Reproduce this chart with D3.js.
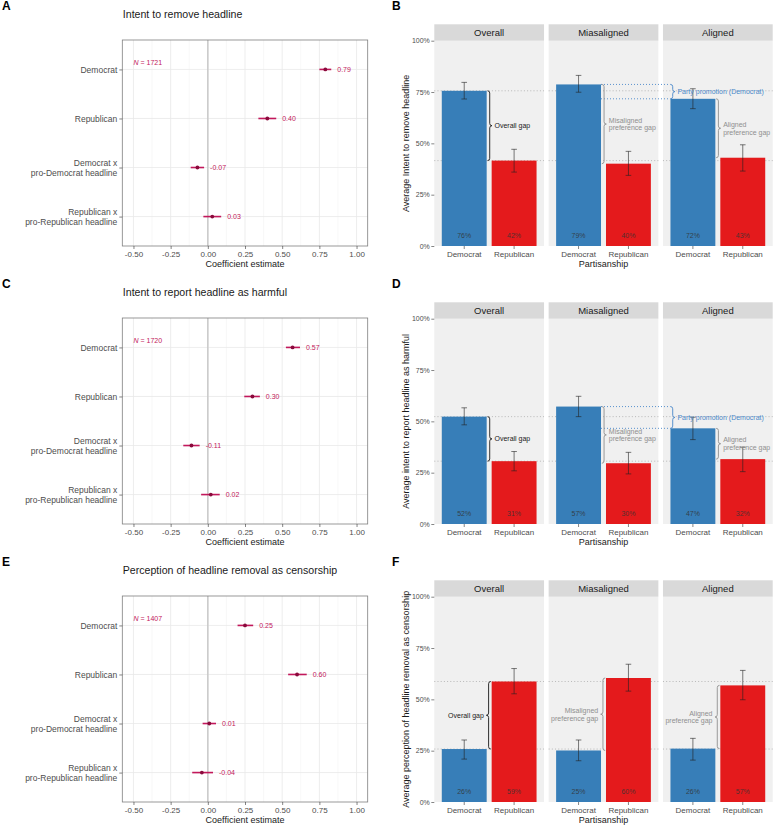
<!DOCTYPE html>
<html><head><meta charset="utf-8">
<script src="https://cdn.jsdelivr.net/npm/d3@7"></script>
<style>body{margin:0;background:#fff}svg{display:block}text{font-family:"Liberation Sans",Arial,Helvetica,sans-serif}</style>
</head><body><svg id="c" width="774" height="825"></svg>
<script>
// ---------- data ----------
const coefTerms = ["Democrat", "Republican", "Democrat x\npro-Democrat headline", "Republican x\npro-Republican headline"];
const coefTicks = [-0.5, -0.25, 0, 0.25, 0.5, 0.75, 1];

const removeEst = [0.79, 0.40, -0.07, 0.03];
const removeLo  = [0.75, 0.34, -0.115, -0.03];
const removeHi  = [0.83, 0.46, -0.025, 0.09];
const harmEst = [0.57, 0.30, -0.11, 0.02];
const harmLo  = [0.525, 0.245, -0.165, -0.045];
const harmHi  = [0.62, 0.35, -0.055, 0.08];
const censEst = [0.25, 0.60, 0.01, -0.04];
const censLo  = [0.20, 0.54, -0.035, -0.105];
const censHi  = [0.305, 0.665, 0.055, 0.035];
const sampleN = [1721, 1720, 1407];
const coefTitles = ["Intent to remove headline", "Intent to report headline as harmful", "Perception of headline removal as censorship"];

const facets = ["Overall", "Miasaligned", "Aligned"];
const parties = ["Democrat", "Republican"];
const pctTicks = [0, 0.25, 0.5, 0.75, 1];

const removeDem = [0.756, 0.787, 0.717], removeRep = [0.416, 0.401, 0.430];
const removeDemLo = [0.716, 0.749, 0.669], removeDemHi = [0.797, 0.831, 0.766];
const removeRepLo = [0.360, 0.344, 0.365], removeRepHi = [0.471, 0.461, 0.493];
const harmDem = [0.523, 0.572, 0.466], harmRep = [0.306, 0.296, 0.316];
const harmDemLo = [0.483, 0.523, 0.411], harmDemHi = [0.566, 0.622, 0.520];
const harmRepLo = [0.259, 0.244, 0.255], harmRepHi = [0.353, 0.349, 0.374];
const censDem = [0.258, 0.251, 0.260], censRep = [0.587, 0.604, 0.568];
const censDemLo = [0.209, 0.201, 0.204], censDemHi = [0.302, 0.302, 0.310];
const censRepLo = [0.527, 0.540, 0.498], censRepHi = [0.650, 0.671, 0.641];
const barYLabels = ["Average Intent to remove headline", "Average intent to report headline as harmful", "Average perception of headline removal as censorship"];
const panelLetters = [["A", "B"], ["C", "D"], ["E", "F"]];

// ---------- styles ----------
const svg = d3.select("#c");
const rowY = [0, 278, 556];
const coefCol = "#c2185b", pointCol = "#8a0a3c";
const blue = "#377eb8", red = "#e41a1c";
const promoCol = "#4a88c9", gapGray = "#8f8f8f";

function brace(x0, ya, yb, w) {
  const y1 = Math.min(ya, yb), y2 = Math.max(ya, yb), ym = (y1 + y2) / 2, h = w / 2;
  const r = Math.min(Math.abs(w) / 2, (y2 - y1) / 4);
  return `M${x0},${y1} Q${x0 + h},${y1} ${x0 + h},${y1 + r} L${x0 + h},${ym - r} Q${x0 + h},${ym} ${x0 + w},${ym} ` +
         `Q${x0 + h},${ym} ${x0 + h},${ym + r} L${x0 + h},${y2 - r} Q${x0 + h},${y2} ${x0},${y2}`;
}

function styleAxis(g, size, col) {
  g.select(".domain").remove();
  g.selectAll(".tick line").attr("stroke", "#333").attr("stroke-width", 0.6);
  g.selectAll(".tick text").attr("fill", col).style("font-size", size + "px").attr("font-family", null);
}

// ---------- coefficient panels ----------
function drawCoef(row, est, lo, hi) {
  const top = 40 + rowY[row], bottom = top + 206, left = 122.3, right = 367.7;
  const g = svg.append("g");
  const x = d3.scaleLinear().domain([-0.575, 1.075]).range([left, right]);
  const y = d3.scalePoint().domain(coefTerms).range([top, bottom]).padding(0.6);

  g.append("text").attr("x", 2).attr("y", top - 30).text(panelLetters[row][0])
    .style("font-size", "12px").style("font-weight", "bold").attr("fill", "#000");
  g.append("text").attr("x", left + 0.5).attr("y", top - 22).text(coefTitles[row])
    .style("font-size", "10.6px").attr("fill", "#1a1a1a");

  const minor = [-0.375, -0.125, 0.125, 0.375, 0.625, 0.875];
  g.selectAll(".mn").data(minor).join("line").attr("x1", d => x(d)).attr("x2", d => x(d))
    .attr("y1", top).attr("y2", bottom).attr("stroke", "#f4f4f4").attr("stroke-width", 0.6);
  g.selectAll(".mj").data(coefTicks).join("line").attr("x1", d => x(d)).attr("x2", d => x(d))
    .attr("y1", top).attr("y2", bottom).attr("stroke", "#e8e8e8").attr("stroke-width", 0.8);
  g.selectAll(".hz").data(coefTerms).join("line").attr("x1", left).attr("x2", right)
    .attr("y1", d => y(d)).attr("y2", d => y(d)).attr("stroke", "#e8e8e8").attr("stroke-width", 0.8);
  g.append("line").attr("x1", x(0)).attr("x2", x(0)).attr("y1", top).attr("y2", bottom)
    .attr("stroke", "#c9c9c9").attr("stroke-width", 1.5);
  g.append("rect").attr("x", left).attr("y", top).attr("width", right - left).attr("height", bottom - top)
    .attr("fill", "none").attr("stroke", "#7f7f7f").attr("stroke-width", 0.8);

  const ax = g.append("g").attr("transform", `translate(0,${bottom})`)
    .call(d3.axisBottom(x).tickValues(coefTicks).tickFormat(d => d.toFixed(2)).tickSize(3).tickPadding(2));
  styleAxis(ax, 8, "#4d4d4d");

  const ay = g.append("g").attr("transform", `translate(${left},0)`)
    .call(d3.axisLeft(y).tickSize(3).tickPadding(2));
  styleAxis(ay, 8.5, "#4d4d4d");
  ay.selectAll(".tick text").each(function(d) {
    const t = d3.select(this); const lines = d.split("\n");
    t.text(null).attr("dy", null).attr("y", 0);
    lines.forEach((ln, i) => {
      t.append("tspan").attr("x", -5).attr("dy", i === 0 ? ((-(lines.length - 1) * 10) / 2 + 3) + "px" : "10px").text(ln);
    });
  });

  g.append("text").attr("x", (left + right) / 2).attr("y", bottom + 21).attr("text-anchor", "middle")
    .text("Coefficient estimate").style("font-size", "9px").attr("fill", "#1a1a1a");

  const nT = g.append("text").attr("x", x(-0.5)).attr("y", y(coefTerms[0]) - 4.5)
    .style("font-size", "7px").attr("fill", coefCol);
  nT.append("tspan").style("font-style", "italic").text("N");
  nT.append("tspan").text(" = " + sampleN[row]);

  coefTerms.forEach((t, i) => {
    g.append("line").attr("x1", x(lo[i])).attr("x2", x(hi[i])).attr("y1", y(t)).attr("y2", y(t))
      .attr("stroke", coefCol).attr("stroke-width", 1.6);
    g.append("circle").attr("cx", x(est[i])).attr("cy", y(t)).attr("r", 1.9).attr("fill", pointCol);
    g.append("text").attr("x", x(hi[i]) + 6).attr("y", y(t) + 2.5).text(est[i].toFixed(2))
      .style("font-size", "7px").attr("fill", coefCol);
  });
}

// ---------- bar panels ----------
function drawBars(row, dem, rep, demLo, demHi, repLo, repHi, mode) {
  const stripTop = 24.3 + rowY[row], pTop = 40.7 + rowY[row], pBot = 246 + rowY[row];
  const g = svg.append("g");
  const fx = d3.scaleBand().domain(facets).range([434.3, 772.7]).paddingInner(0.0403).paddingOuter(0);
  const xb = d3.scaleBand().domain(parties).range([0, fx.bandwidth()]).paddingInner(0.1).paddingOuter(0.15);
  const y = d3.scaleLinear().domain([0, 1]).range([pBot, pTop]);
  const bw = xb.bandwidth();

  g.append("text").attr("x", 392).attr("y", stripTop - 14).text(panelLetters[row][1])
    .style("font-size", "12px").style("font-weight", "bold").attr("fill", "#000");

  facets.forEach((f, i) => {
    const px = fx(f);
    const pg = g.append("g").attr("transform", `translate(${px},0)`);
    pg.append("rect").attr("x", 0).attr("y", pTop).attr("width", fx.bandwidth()).attr("height", pBot - pTop).attr("fill", "#f0f0f0");
    pg.append("rect").attr("x", 0).attr("y", stripTop).attr("width", fx.bandwidth()).attr("height", pTop - stripTop).attr("fill", "#d9d9d9");
    pg.append("text").attr("x", fx.bandwidth() / 2).attr("y", stripTop + 11.5).attr("text-anchor", "middle")
      .text(f).style("font-size", "9.5px").attr("fill", "#1a1a1a");
    [dem[0], rep[0]].forEach(v => {
      pg.append("line").attr("x1", 0).attr("x2", fx.bandwidth()).attr("y1", y(v)).attr("y2", y(v))
        .attr("stroke", "#aaaaaa").attr("stroke-width", 0.8).attr("stroke-dasharray", "1,2.2");
    });
    const vals = [dem[i], rep[i]], los = [demLo[i], repLo[i]], his = [demHi[i], repHi[i]];
    parties.forEach((p, j) => {
      pg.append("rect").attr("x", xb(p)).attr("y", y(vals[j])).attr("width", bw).attr("height", y(0) - y(vals[j]))
        .attr("fill", j === 0 ? blue : red);
      const cx = xb(p) + bw / 2;
      pg.append("line").attr("x1", cx).attr("x2", cx).attr("y1", y(los[j])).attr("y2", y(his[j]))
        .attr("stroke", "#222").attr("stroke-opacity", 0.75).attr("stroke-width", 0.8);
      [los[j], his[j]].forEach(v => pg.append("line").attr("x1", cx - 2.8).attr("x2", cx + 2.8).attr("y1", y(v)).attr("y2", y(v))
        .attr("stroke", "#222").attr("stroke-opacity", 0.75).attr("stroke-width", 0.8));
      pg.append("text").attr("x", cx).attr("y", y(0.05) + 2.5).attr("text-anchor", "middle")
        .text(Math.round(vals[j] * 100) + "%").style("font-size", "7px").attr("fill", "#333").attr("fill-opacity", 0.85);
    });
    const ax = pg.append("g").attr("transform", `translate(0,${pBot})`)
      .call(d3.axisBottom(xb).tickSize(3).tickPadding(2));
    styleAxis(ax, 8, "#4d4d4d");
  });

  const ay = g.append("g").attr("transform", `translate(434.3,0)`)
    .call(d3.axisLeft(y).tickValues(pctTicks).tickFormat(d3.format(".0%")).tickSize(3).tickPadding(1.5));
  styleAxis(ay, 7, "#4d4d4d");

  g.append("text").attr("transform", `translate(408.5,${(pTop + pBot) / 2}) rotate(-90)`).attr("text-anchor", "middle")
    .text(barYLabels[row]).style("font-size", "9px").attr("fill", "#1a1a1a");
  g.append("text").attr("x", (434.3 + 772.7) / 2).attr("y", pBot + 20.5).attr("text-anchor", "middle")
    .text("Partisanship").style("font-size", "9px").attr("fill", "#1a1a1a");

  const gapLabels = [["Overall gap"], ["Misaligned", "preference gap"], ["Aligned", "preference gap"]];
  const gapCols = ["#1a1a1a", gapGray, gapGray];
  function multiText(x, ymid, lines, col, anchor) {
    const t = g.append("text").attr("x", x).attr("y", ymid).attr("text-anchor", anchor)
      .style("font-size", "7px").attr("fill", col);
    lines.forEach((ln, k) => t.append("tspan").attr("x", x)
      .attr("dy", k === 0 ? (-(lines.length - 1) * 7.7 / 2 + 2.5) + "px" : "7.7px").text(ln));
  }

  if (mode === "dem") {
    // party promotion lines and brace
    const x1 = fx(facets[1]) + xb("Democrat") + bw, x2 = fx(facets[2]) + xb("Democrat");
    [dem[1], dem[2]].forEach(v => g.append("line").attr("x1", x1).attr("x2", x2).attr("y1", y(v)).attr("y2", y(v))
      .attr("stroke", promoCol).attr("stroke-width", 0.9).attr("stroke-dasharray", "1,2"));
    facets.forEach((f, i) => {
      const x0 = fx(f) + xb("Democrat") + bw + 0.8;
      g.append("path").attr("d", brace(x0, y(dem[i]), y(rep[i]), 4.5)).attr("fill", "none")
        .attr("stroke", gapCols[i]).attr("stroke-width", 0.9);
      multiText(x0 + 7, (y(dem[i]) + y(rep[i])) / 2, gapLabels[i], gapCols[i], "start");
    });
    g.append("path").attr("d", brace(x2, y(dem[1]), y(dem[2]), 4.5)).attr("fill", "none")
      .attr("stroke", promoCol).attr("stroke-width", 0.9);
    multiText(x2 + 7, (y(dem[1]) + y(dem[2])) / 2, ["Party promotion (Democrat)"], promoCol, "start");
  } else {
    facets.forEach((f, i) => {
      const x0 = fx(f) + xb("Republican") - 0.8;
      g.append("path").attr("d", brace(x0, y(rep[i]), y(dem[i]), -4.5)).attr("fill", "none")
        .attr("stroke", gapCols[i]).attr("stroke-width", 0.9);
      multiText(x0 - 7, (y(dem[i]) + y(rep[i])) / 2, gapLabels[i], gapCols[i], "end");
    });
  }
}

drawCoef(0, removeEst, removeLo, removeHi);
drawCoef(1, harmEst, harmLo, harmHi);
drawCoef(2, censEst, censLo, censHi);
drawBars(0, removeDem, removeRep, removeDemLo, removeDemHi, removeRepLo, removeRepHi, "dem");
drawBars(1, harmDem, harmRep, harmDemLo, harmDemHi, harmRepLo, harmRepHi, "dem");
drawBars(2, censDem, censRep, censDemLo, censDemHi, censRepLo, censRepHi, "rep");
</script></body></html>
